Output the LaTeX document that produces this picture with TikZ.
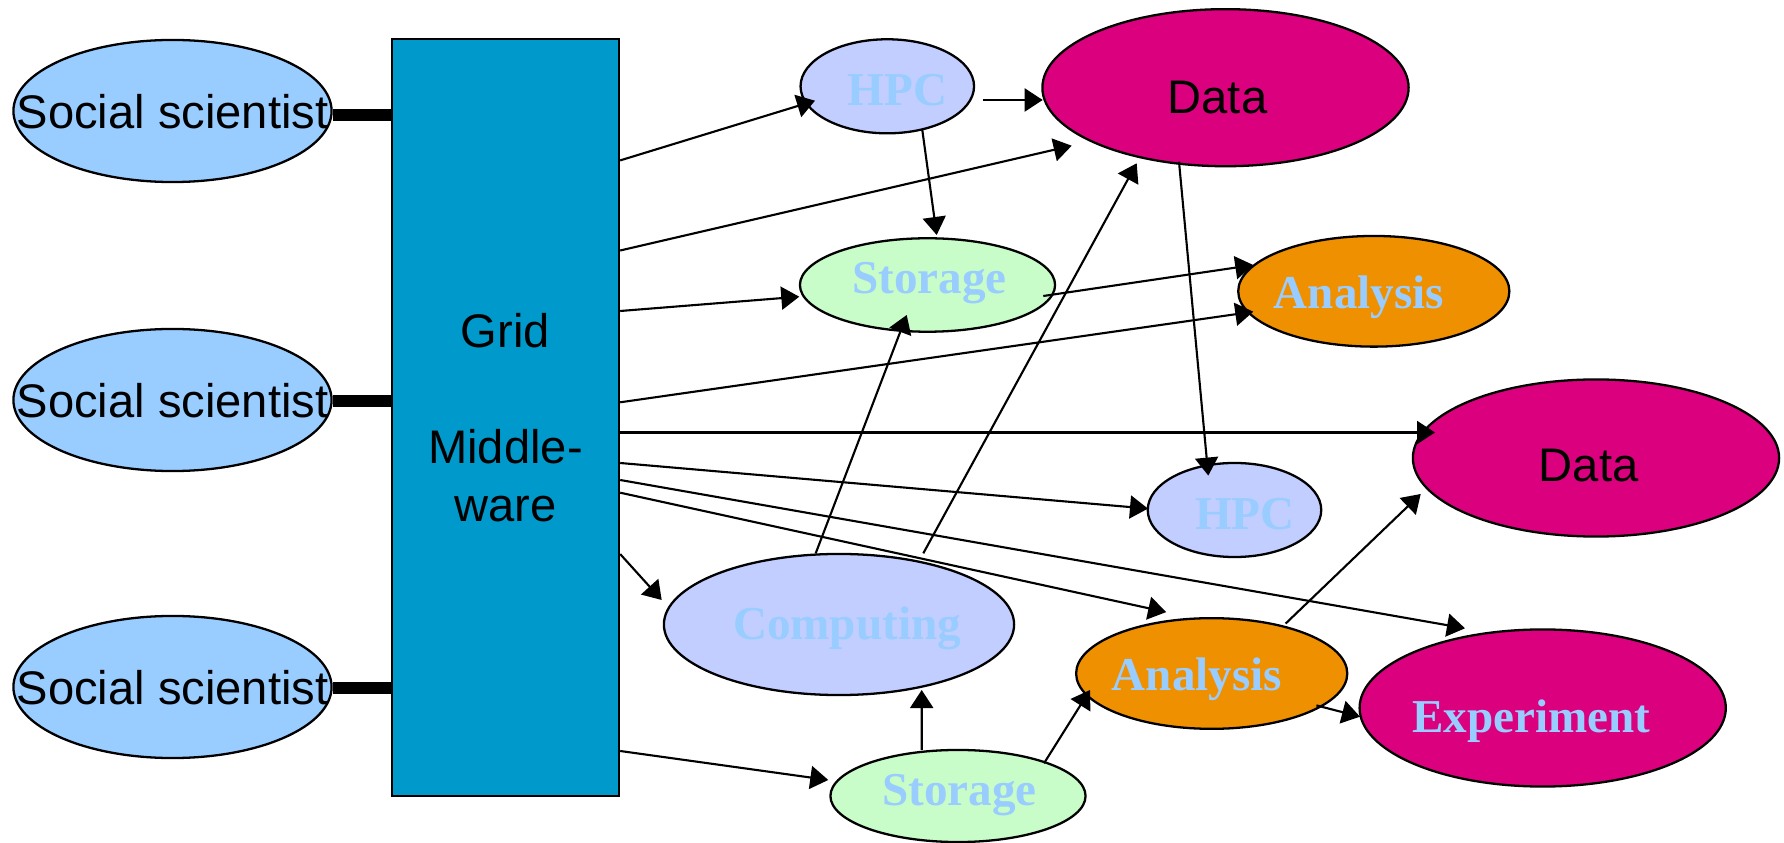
\documentclass[tikz,border=0pt]{standalone}
\usepackage{fontspec}
\newfontfamily\arialf{Liberation Sans}
\newfontfamily\timesf{Liberation Serif}
\usetikzlibrary{shapes.geometric,arrows.meta,calc}
\definecolor{socblue}{HTML}{99CCFF}
\definecolor{mwblue}{HTML}{0099CC}
\definecolor{hpcblue}{HTML}{C2CEFF}
\definecolor{stogreen}{HTML}{C8FCC8}
\definecolor{datamag}{HTML}{DB007D}
\definecolor{anorange}{HTML}{EF9000}
\definecolor{lighttxt}{HTML}{99CCFF}
\begin{document}
\begin{tikzpicture}[x=0.01cm,y=-0.01cm,
  ell/.style={ellipse, draw=black, line width=0.65pt, inner sep=0pt},
  sans/.style={font=\arialf\fontsize{13.4}{16.44}\selectfont, text=black, anchor=base, inner sep=0pt},
  serif/.style={font=\timesf\bfseries\fontsize{13.4}{16}\selectfont, text=lighttxt, anchor=base, inner sep=0pt},
  conn/.style={line width=0.6pt, -{Triangle[length=0.18cm,width=0.23cm]}},
  bar/.style={line width=3.2pt}]
\useasboundingbox (0,0) rectangle (1784,843);

% social scientists
\node[ell, fill=socblue, minimum width=3.18cm, minimum height=1.42cm] (s1) at (172.5,111) {};
\node[ell, fill=socblue, minimum width=3.18cm, minimum height=1.42cm] (s2) at (172.5,400) {};
\node[ell, fill=socblue, minimum width=3.18cm, minimum height=1.42cm] (s3) at (172.5,687) {};
\node[sans] (ts1) at (172.5,128.3) {Social scientist};
\node[sans] (ts2) at (172.5,417.3) {Social scientist};
\node[sans] (ts3) at (172.5,704.3) {Social scientist};

% middleware
\node[draw=black, line width=0.65pt, fill=mwblue, minimum width=2.27cm, minimum height=7.56cm,
      inner sep=0pt, align=center, font=\arialf\fontsize{13.4}{16.44}\selectfont] (mw) at (505.5,417.5)
      {Grid\\[16.44pt]Middle-\\ware};

% resources
\node[ell, fill=hpcblue, minimum width=1.734cm, minimum height=0.94cm] (hpc1) at (887.3,86.3) {};
\node[ell, fill=datamag, minimum width=3.66cm, minimum height=1.57cm] (d1) at (1225.5,87.7) {};
\node[ell, fill=stogreen, minimum width=2.55cm, minimum height=0.934cm] (sto1) at (927.5,285) {};
\node[ell, fill=anorange, minimum width=2.71cm, minimum height=1.106cm] (an1) at (1373.8,291.3) {};
\node[ell, fill=datamag, minimum width=3.66cm, minimum height=1.57cm] (d2) at (1596,458) {};
\node[ell, fill=hpcblue, minimum width=1.734cm, minimum height=0.94cm] (hpc2) at (1234.5,510) {};
\node[ell, fill=hpcblue, minimum width=3.5cm, minimum height=1.41cm] (comp) at (839,624.5) {};
\node[ell, fill=anorange, minimum width=2.71cm, minimum height=1.106cm] (an2) at (1211.7,673.5) {};
\node[ell, fill=datamag, minimum width=3.66cm, minimum height=1.57cm] (exp) at (1542.7,708) {};
\node[ell, fill=stogreen, minimum width=2.55cm, minimum height=0.92cm] (sto2) at (958,796) {};

\node[serif] (thpc1) at (897.5,106) {HPC};
\node[sans] (td1) at (1217.5,113.3) {Data};
\node[serif] (tsto1) at (929.5,293.3) {Storage};
\node[serif] (tan1) at (1359,308.3) {Analysis};
\node[sans] (td2) at (1588.7,481.7) {Data};
\node[serif] (thpc2) at (1245,530) {HPC};
\node[serif] (tcomp) at (847,640) {Computing};
\node[serif] (tan2) at (1197,690.5) {Analysis};
\node[serif] (texp) at (1531.5,733) {Experiment};
\node[serif] (tsto2) at (959.5,805) {Storage};

% thick links
\coordinate (b1) at ($(s1.east)+(0,4)$);
\coordinate (b2) at ($(s2.east)+(0,1)$);
\coordinate (b3) at ($(s3.east)+(0,1)$);
\draw[bar] (b1) -- (b1 -| mw.west);
\draw[bar] (b2) -- (b2 -| mw.west);
\draw[bar] (b3) -- (b3 -| mw.west);

% connectors
\draw[conn] ($(mw.east)+(0,-257.1)$) -- ($(hpc1)+(-72.3,14.4)$);
\draw[conn] ($(mw.east)+(0,-167)$) -- ($(d1)+(-153.8,58)$);
\draw[conn] ($(mw.east)+(0,-106.5)$) -- ($(sto1)+(-128.2,11.7)$);
\draw[conn] ($(mw.east)+(0,-15.2)$) -- ($(an1)+(-120.5,20.4)$);
\draw[conn] ($(mw.east)+(0,15)$) -- ($(d2)+(-161,-25.5)$);
\draw[conn] ($(mw.east)+(0,45.5)$) -- ($(hpc2)+(-86.5,-1.4)$);
\draw[conn] ($(mw.east)+(0,62.5)$) -- ($(exp)+(-77.7,-79.7)$);
\draw[conn] ($(mw.east)+(0,75.2)$) -- ($(an2)+(-45.5,-61.4)$);
\draw[conn] ($(mw.east)+(0,136.6)$) -- ($(comp)+(-177.3,-24.5)$);
\draw[conn] ($(mw.east)+(0,333.5)$) -- ($(sto2)+(-129.7,-16)$);
\draw[conn] ($(hpc1)+(95.4,13.7)$) -- ($(d1)+(-182.8,12.3)$);
\draw[conn] ($(hpc1)+(35,43.7)$) -- ($(sto1)+(9.2,-50)$);
\draw[conn] ($(sto1)+(115.8,11)$) -- ($(an1)+(-120.5,-26.3)$);
\draw[conn] ($(comp)+(-23.3,-71.2)$) -- ($(sto1)+(-20.8,30)$);
\draw[conn] ($(comp)+(84.3,-71.2)$) -- ($(d1)+(-88.8,75.6)$);
\draw[conn] ($(d1)+(-46.5,74)$) -- ($(hpc2)+(-26.2,-34.4)$);
\draw[conn] ($(sto2)+(-36.3,-46)$) -- ($(comp)+(82.7,65.5)$);
\draw[conn] ($(sto2)+(86,-32.7)$) -- ($(an2)+(-121.7,16.5)$);
\draw[conn] ($(an2)+(74,-50)$) -- ($(d2)+(-175.3,36)$);
\draw[conn] ($(an2)+(104.7,31.9)$) -- ($(exp)+(-182.7,8.7)$);
\end{tikzpicture}
\end{document}
